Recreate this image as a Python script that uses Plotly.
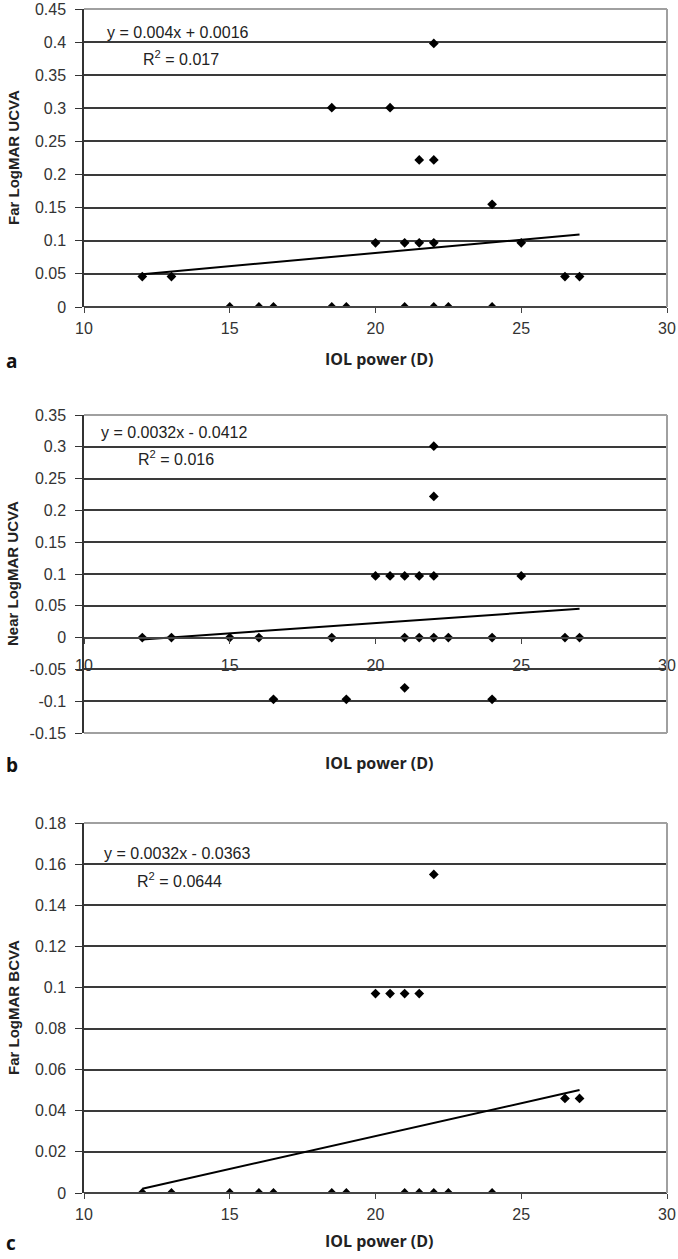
import plotly.graph_objects as go

# --------------------------------------------------------------------------- #
# Data (IOL power in dioptres vs LogMAR acuity)
# --------------------------------------------------------------------------- #
iol_a = [22, 18.5, 20.5, 21.5, 22, 24, 20, 21, 21.5, 22, 25,
         12, 13, 26.5, 27, 15, 16, 16.5, 18.5, 19, 21, 22, 22.5, 24]
far_ucva = [0.398, 0.301, 0.301, 0.222, 0.222, 0.155, 0.097, 0.097, 0.097, 0.097, 0.097,
            0.046, 0.046, 0.046, 0.046, 0, 0, 0, 0, 0, 0, 0, 0, 0]
trend_a_x = [12, 27]
trend_a_y = [0.0496, 0.1096]

iol_b = [22, 22, 20, 20.5, 21, 21.5, 22, 25,
         12, 13, 15, 16, 18.5, 21, 21.5, 22, 22.5, 24, 26.5, 27,
         21, 16.5, 19, 24]
near_ucva = [0.301, 0.222, 0.097, 0.097, 0.097, 0.097, 0.097, 0.097,
             0, 0, 0, 0, 0, 0, 0, 0, 0, 0, 0, 0,
             -0.079, -0.097, -0.097, -0.097]
trend_b_x = [12, 27]
trend_b_y = [-0.0028, 0.0452]

iol_c = [22, 20, 20.5, 21, 21.5, 26.5, 27,
         12, 13, 15, 16, 16.5, 18.5, 19, 21, 21.5, 22, 22.5, 24]
far_bcva = [0.155, 0.097, 0.097, 0.097, 0.097, 0.046, 0.046,
            0, 0, 0, 0, 0, 0, 0, 0, 0, 0, 0, 0]
trend_c_x = [12, 27]
trend_c_y = [0.0021, 0.0501]

x_ticks = [10, 15, 20, 25, 30]
ya_ticks = [0, 0.05, 0.1, 0.15, 0.2, 0.25, 0.3, 0.35, 0.4, 0.45]
ya_text = ["0", "0.05", "0.1", "0.15", "0.2", "0.25", "0.3", "0.35", "0.4", "0.45"]
yb_ticks = [-0.15, -0.1, -0.05, 0, 0.05, 0.1, 0.15, 0.2, 0.25, 0.3, 0.35]
yb_text = ["-0.15", "-0.1", "-0.05", "0", "0.05", "0.1", "0.15", "0.2", "0.25", "0.3", "0.35"]
yc_ticks = [0, 0.02, 0.04, 0.06, 0.08, 0.1, 0.12, 0.14, 0.16, 0.18]
yc_text = ["0", "0.02", "0.04", "0.06", "0.08", "0.1", "0.12", "0.14", "0.16", "0.18"]

equations = ["y = 0.004x + 0.0016", "y = 0.0032x - 0.0412", "y = 0.0032x - 0.0363"]
r2_text = ["R<sup>2</sup> = 0.017", "R<sup>2</sup> = 0.016", "R<sup>2</sup> = 0.0644"]
y_titles = ["Far LogMAR UCVA", "Near LogMAR UCVA", "Far LogMAR BCVA"]
letters = ["a", "b", "c"]

# --------------------------------------------------------------------------- #
# Layout helpers (pixel -> paper)
# --------------------------------------------------------------------------- #
W, H = 678, 1259
LEFT, RIGHT = 84, 667
TICK_FONT = dict(family="Arial, Liberation Sans", size=16, color="#333")
TEXT_FONT = dict(family="Arial, Liberation Sans", size=16, color="#222")
GRID = "#3a3a3a"
FRAME = "#a0a0a0"


def px(x):
    return x / W


def py(y):
    return 1 - y / H


panels = [
    dict(xs=iol_a, ys=far_ucva, tx=trend_a_x, ty=trend_a_y, top=9, bottom=307,
         yrange=[0, 0.45], yt=ya_ticks, ytt=ya_text, axis_y=307,
         eq=(105, 33), r2=(141, 58), title_y=359),
    dict(xs=iol_b, ys=near_ucva, tx=trend_b_x, ty=trend_b_y, top=415, bottom=733,
         yrange=[-0.15, 0.35], yt=yb_ticks, ytt=yb_text, axis_y=638,
         eq=(99, 433), r2=(136, 458), title_y=763),
    dict(xs=iol_c, ys=far_bcva, tx=trend_c_x, ty=trend_c_y, top=823, bottom=1193,
         yrange=[0, 0.18], yt=yc_ticks, ytt=yc_text, axis_y=1193,
         eq=(102, 853), r2=(135, 880), title_y=1241),
]

fig = go.Figure()

for i, p in enumerate(panels):
    n = "" if i == 0 else str(i + 1)
    fig.add_trace(go.Scatter(x=p["xs"], y=p["ys"], mode="markers",
                             marker=dict(symbol="diamond", size=7.5, color="black"),
                             xaxis="x" + n, yaxis="y" + n, showlegend=False))
    fig.add_trace(go.Scatter(x=p["tx"], y=p["ty"], mode="lines",
                             line=dict(color="black", width=2),
                             xaxis="x" + n, yaxis="y" + n, showlegend=False))

    fig.layout["yaxis" + n] = dict(
        domain=[py(p["bottom"]), py(p["top"])], range=p["yrange"], anchor="x" + n,
        tickvals=p["yt"], ticktext=p["ytt"], tickfont=TICK_FONT, automargin=False,
        showgrid=True, gridcolor=GRID, gridwidth=1.5, zeroline=False,
        showline=True, linecolor="#333", linewidth=1.5,
        ticks="outside", ticklen=7, tickcolor="#333", ticklabelstandoff=6)
    fig.layout["xaxis" + n] = dict(
        domain=[px(LEFT), px(RIGHT)], range=[10, 30],
        anchor="free", position=py(p["axis_y"]), automargin=False,
        tickvals=x_ticks, tickfont=TICK_FONT, showgrid=False, zeroline=False,
        showline=True, linecolor="#444", linewidth=1.5,
        ticks="outside", ticklen=5, tickcolor="#444",
        ticklabelstandoff=8 if i == 1 else 2)

    # light grey frame on top / right (and bottom for the panel with a mid axis)
    frame = [(LEFT, p["top"], RIGHT, p["top"]), (RIGHT, p["top"], RIGHT, p["bottom"])]
    if i == 1:
        frame.append((LEFT, p["bottom"], RIGHT, p["bottom"]))
    for x0, y0, x1, y1 in frame:
        fig.add_shape(type="line", xref="paper", yref="paper", layer="above",
                      x0=px(x0), y0=py(y0), x1=px(x1), y1=py(y1),
                      line=dict(color=FRAME, width=2))

    fig.add_annotation(text=equations[i], xref="paper", yref="paper",
                       x=px(p["eq"][0]), y=py(p["eq"][1]),
                       xanchor="left", yanchor="middle", showarrow=False, font=TEXT_FONT)
    fig.add_annotation(text=r2_text[i], xref="paper", yref="paper",
                       x=px(p["r2"][0]), y=py(p["r2"][1]),
                       xanchor="left", yanchor="middle", showarrow=False, font=TEXT_FONT)
    fig.add_annotation(text="<b>" + y_titles[i] + "</b>", xref="paper", yref="paper",
                       x=px(13), y=py((p["top"] + p["bottom"]) / 2), textangle=-90,
                       xanchor="center", yanchor="middle", showarrow=False,
                       font=dict(family="Arial, Liberation Sans", size=15, color="#222"))
    fig.add_annotation(text="<b>IOL power (D)</b>", xref="paper", yref="paper",
                       x=px((LEFT + RIGHT) / 2 + 4), y=py(p["title_y"]),
                       xanchor="center", yanchor="middle", showarrow=False,
                       font=dict(family="Open Sans", size=16, color="#222"))
    fig.add_annotation(text="<b>" + letters[i] + "</b>", xref="paper", yref="paper",
                       x=px(4), y=py(p["title_y"] + 2),
                       xanchor="left", yanchor="middle", showarrow=False,
                       font=dict(family="Open Sans", size=19, color="#111"))

fig.update_layout(width=W, height=H, margin=dict(l=0, r=0, t=0, b=0, pad=0),
                  paper_bgcolor="white", plot_bgcolor="white")

fig.write_html("out.html", config={"displayModeBar": False},
               post_script="document.body.style.margin='0';")
